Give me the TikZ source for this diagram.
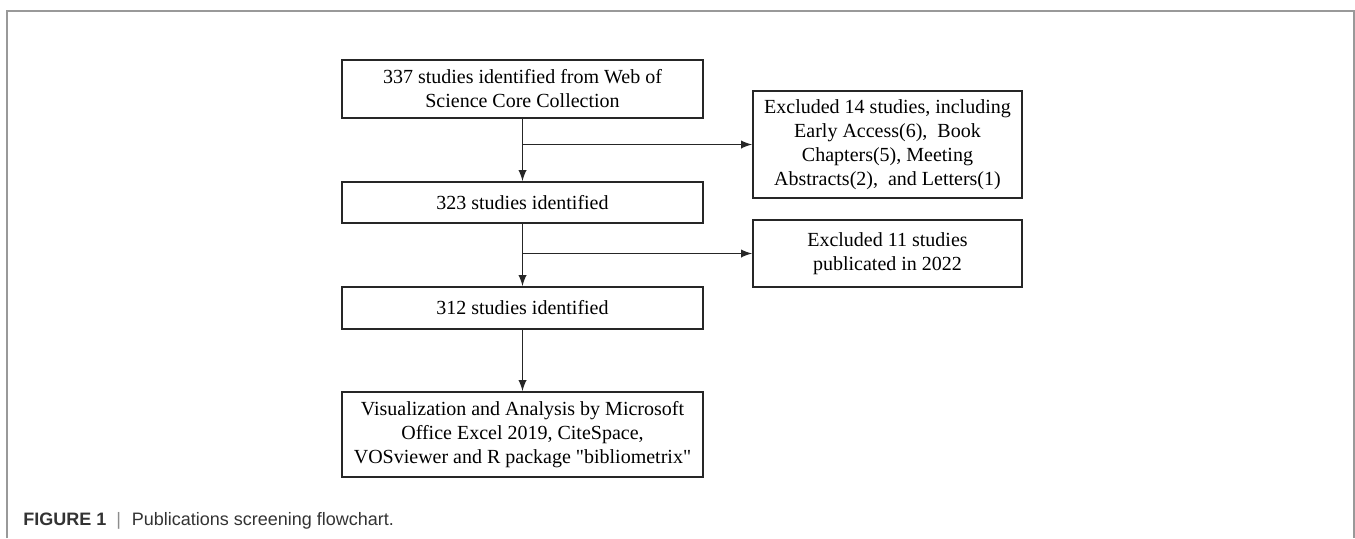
\documentclass[tikz,border=0pt]{standalone}
\usepackage{fontspec}
\setmainfont{Liberation Serif}
\newfontfamily\capfont{Liberation Sans}
\usetikzlibrary{arrows, calc, positioning}
\tikzset{
    flowBox/.style={rectangle, draw=black!85, line width=1pt, fill=white, align=center, inner sep=0pt, font=\fontsize{10}{12}\selectfont},
    mainBox/.style={flowBox, minimum width=180.5pt},
    sideBox/.style={flowBox, minimum width=134.5pt},
    flowEdge/.style={->, >=latex, line width=0.9pt, black!85},
    frameLine/.style={line width=0.8pt, black!40},
    capText/.style={anchor=base west, inner sep=0pt, text=black!80, font=\capfont\fontsize{9}{11}\selectfont},
}
\newcommand{\drawFlow}[2]{
    \draw[flowEdge] (#1) -- (#2);
}
\newcommand{\drawBranch}[2]{
    % from the trunk straight across to the side box
    \draw[flowEdge] (#1.south |- #2.west) -- (#2.west);
}
\begin{document}
\begin{tikzpicture}[x=0.5pt, y=-0.5pt]

        \useasboundingbox (0,0) rectangle (1355,538);
        \draw[frameLine] (7,538) -- (7,11) -- (1354,11) -- (1354,538);

        \node[mainBox, minimum height=29pt] (S337) at (522.5, 89) {337 studies identified from Web of\\Science Core Collection};
        \node[mainBox, minimum height=20.5pt] (S323) at (522.5, 202.5) {323 studies identified};
        \node[mainBox, minimum height=21pt] (S312) at (522.5, 308) {312 studies identified};
        \node[mainBox, minimum height=42.5pt] (Vis) at (522.5, 434.5) {Visualization and Analysis by Microsoft\\Office Excel 2019, CiteSpace,\\VOSviewer and R package \textquotedbl bibliometrix\textquotedbl};
        \node[sideBox, minimum height=53.5pt] (Ex14) at (887.5, 144.5) {Excluded 14 studies, including\\Early Access(6),\ \ Book\\Chapters(5), Meeting\\Abstracts(2),\ \ and Letters(1)};
        \node[sideBox, minimum height=33.5pt] (Ex11) at (887.5, 253.5) {Excluded 11 studies\\publicated in 2022};

        \drawFlow{S337}{S323}
        \drawBranch{S337}{Ex14}
        \drawFlow{S323}{S312}
        \drawBranch{S323}{Ex11}
        \drawFlow{S312}{Vis}

        \node[capText] (cap) at (23, 525) {\textbf{FIGURE 1}\hspace{0.55em}{\color{black!45}|}\hspace{0.6em}Publications screening flowchart.};

    \end{tikzpicture}
\end{document}
